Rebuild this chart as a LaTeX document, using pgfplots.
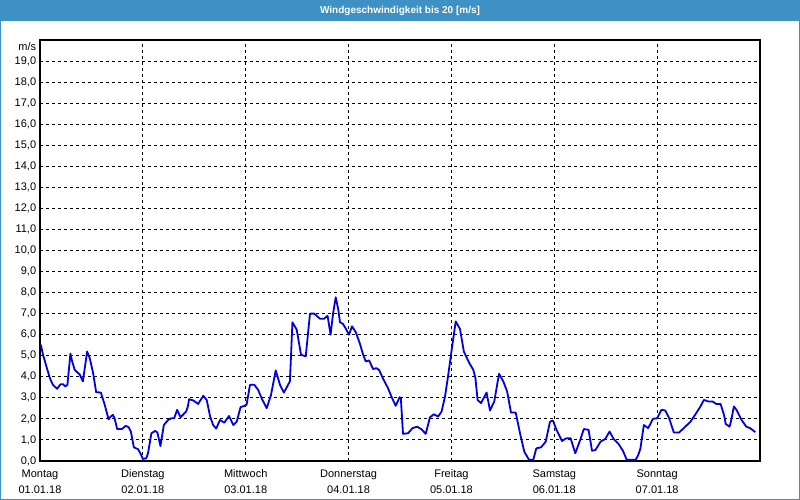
\documentclass[border=0pt]{standalone}
\usepackage{fontspec}
\setmainfont{Liberation Sans}
\usepackage{pgfplots}
\pgfplotsset{compat=1.18}
\definecolor{titleblue}{RGB}{61,145,196}
\definecolor{lineblue}{RGB}{0,0,225}
\begin{document}
\fontsize{11bp}{16bp}\selectfont
\begin{tikzpicture}
\useasboundingbox (0,0) rectangle (800bp,500bp);
\fill[white] (0,0) rectangle (800bp,500bp);
\fill[titleblue] (0,479bp) rectangle (800bp,500bp);
\draw[titleblue,line width=1.2bp] (0.6bp,0.6bp) rectangle (799.4bp,499.4bp);
\node[text=white,font=\fontsize{10bp}{12bp}\selectfont\bfseries] at (400bp,489.5bp) {Windgeschwindigkeit bis 20 [m/s]};
\begin{axis}[
  at={(40bp,39bp)}, anchor=south west,
  scale only axis, width=720bp, height=421bp,
  xmin=0, xmax=168, ymin=0, ymax=20,
  xtick={0,24,48,72,96,120,144},
  xticklabels={{Montag\\01.01.18},{Dienstag\\02.01.18},{Mittwoch\\03.01.18},{Donnerstag\\04.01.18},{Freitag\\05.01.18},{Samstag\\06.01.18},{Sonntag\\07.01.18}},
  xticklabel style={align=center, yshift=-5bp},
  ytick={0,1,...,19},
  yticklabel style={/pgf/number format/.cd, fixed, fixed zerofill, precision=1, use comma, assume math mode=true},
  major tick length=0pt,
  grid=major,
  major grid style={black, line width=0.9bp, dash pattern=on 3bp off 3bp},
  axis line style={black, line width=1.1bp},
  tick label style={font=\fontsize{11bp}{16bp}\selectfont},
  axis on top=false,
]
\addplot[lineblue, line width=1.8bp, line join=round] table {
x y
0.2 5.52
0.7 5.05
1.5 4.49
2.3 3.94
3.0 3.62
4.0 3.43
4.8 3.65
5.4 3.65
5.9 3.54
6.4 3.62
7.1 5.10
7.5 4.73
8.1 4.33
9.3 4.10
10.0 3.78
11.0 5.20
11.6 4.89
12.4 4.17
13.1 3.27
14.2 3.25
15.1 2.67
16.0 1.98
16.5 2.11
17.0 2.19
17.4 2.03
18.0 1.52
19.1 1.52
20.0 1.67
20.7 1.60
21.2 1.40
21.9 0.65
22.9 0.56
23.5 0.33
24.0 0.10
24.8 0.13
25.2 0.37
26.0 1.32
26.9 1.43
27.4 1.35
28.1 0.71
28.9 1.71
29.9 1.95
30.6 2.03
31.3 2.03
32.0 2.43
32.8 2.08
34.1 2.35
34.5 2.59
34.8 2.94
35.8 2.87
36.9 2.71
38.1 3.10
38.9 2.90
39.7 2.11
40.4 1.71
41.1 1.54
42.0 1.95
43.0 1.82
44.1 2.14
45.1 1.71
45.9 1.87
46.8 2.56
47.7 2.62
48.2 2.67
49.0 3.62
50.0 3.62
50.9 3.38
51.8 2.94
52.9 2.51
53.9 3.14
55.0 4.30
56.0 3.62
56.9 3.25
58.3 3.78
58.5 4.65
58.9 6.59
59.9 6.24
60.9 5.05
62.0 4.97
63.0 7.00
64.0 7.00
65.3 6.76
66.3 6.76
67.1 6.90
67.8 6.00
68.4 7.03
69.0 7.78
69.6 7.19
70.0 6.59
70.7 6.51
71.4 6.27
72.1 6.00
72.8 6.40
73.7 6.11
74.6 5.60
75.4 5.05
76.0 4.73
76.8 4.78
77.7 4.37
78.5 4.41
79.1 4.33
80.1 3.89
81.2 3.46
82.0 3.06
83.0 2.62
83.9 3.03
84.2 2.98
84.7 1.29
85.9 1.32
86.9 1.56
88.0 1.63
89.0 1.51
90.0 1.29
91.0 2.08
91.9 2.22
92.9 2.11
93.7 2.35
94.5 3.06
95.2 4.01
96.0 5.20
97.0 6.63
98.0 6.27
98.9 5.20
100.1 4.68
101.1 4.33
101.6 3.94
102.1 2.90
102.9 2.75
104.2 3.25
105.0 2.40
106.0 2.83
107.1 4.14
108.1 3.78
109.0 3.30
109.9 2.30
111.0 2.30
112.0 1.32
113.0 0.44
114.1 0.06
115.1 0.06
115.8 0.60
116.9 0.65
118.0 0.92
119.0 1.87
119.7 1.92
120.5 1.48
121.8 0.95
122.8 1.08
123.8 1.08
124.9 0.37
125.9 0.92
126.9 1.52
128.0 1.48
128.8 0.49
129.6 0.52
130.8 0.92
131.9 1.05
132.9 1.40
133.9 1.03
135.0 0.81
136.0 0.49
136.9 0.06
139.0 0.06
139.6 0.29
140.1 0.60
140.9 1.71
141.9 1.56
143.0 2.00
144.0 2.03
145.0 2.43
145.9 2.40
146.8 2.03
147.9 1.35
149.1 1.35
150.4 1.60
151.8 1.87
153.0 2.24
154.1 2.59
154.9 2.90
155.9 2.83
156.9 2.83
157.8 2.71
158.8 2.71
159.6 2.19
160.0 1.76
160.9 1.63
161.3 1.95
161.9 2.59
162.6 2.40
163.7 1.95
164.8 1.63
165.7 1.56
166.9 1.37
};
\end{axis}
\node[anchor=east, inner sep=0pt] at (36.3bp,453.5bp) {m/s};
\end{tikzpicture}
\end{document}
